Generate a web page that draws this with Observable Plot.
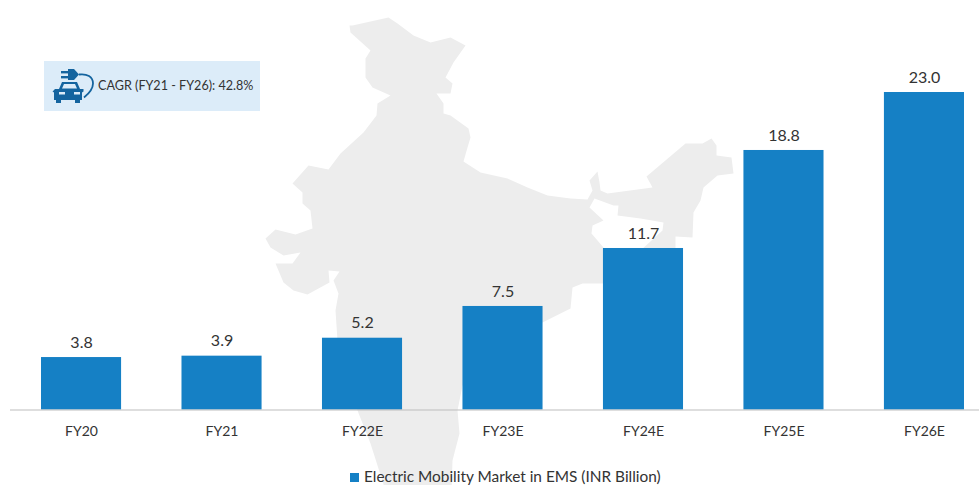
<!DOCTYPE html>
<html>
<head>
<meta charset="utf-8">
<script src="https://cdn.jsdelivr.net/npm/d3@7"></script>
<script src="https://cdn.jsdelivr.net/npm/@observablehq/plot@0.6"></script>
<style>
  html, body { margin: 0; padding: 0; background: #fff; overflow: hidden; }
  #stage { position: relative; width: 979px; height: 485px; font-family: Lato, sans-serif; color: #333; }
  #stage > .layer { position: absolute; left: 0; top: 0; }
  #callout { position: absolute; left: 44px; top: 61px; width: 216px; height: 50px; background: #dcecf9; }
  #callout svg { position: absolute; left: 0; top: 0; }
  #callout span { position: absolute; left: 54px; top: 17px; font-size: 12.6px; line-height: 16px; white-space: nowrap; }
  #legend { position: absolute; left: 350px; top: 467px; font-size: 15.4px; line-height: 18px; white-space: nowrap; }
  #legend i { display: inline-block; width: 9px; height: 9px; margin-right: 5px; background: #1580c5; }
</style>
</head>
<body>
<div id="stage"></div>
<script>
const categories = ["FY20", "FY21", "FY22E", "FY23E", "FY24E", "FY25E", "FY26E"];
const marketValues = [3.8, 3.9, 5.2, 7.5, 11.7, 18.8, 23.0];
const barColor = "#1580c5";
const legendLabel = "Electric Mobility Market in EMS (INR Billion)";
const calloutLabel = "CAGR (FY21 - FY26): 42.8%";

// Outline of the backdrop map
const indiaOutline = [
  [388,17],[397,23],[413,35],[430,42],[450,37],[465,45],[453,62],[445,77],[452,83],[450,93],[436,93],[443,103],[443,113],[450,115],
  [468,128],[470,137],[467,147],[463,161],[480,172],[507,178],[527,187],[547,195],[570,198],[587,199],[592,190],[589,180],[597,171],
  [599,182],[600,190],[607,193],[652,187],[646,176],[685,143],[702,143],[711,138],[716,145],[716,155],[731,157],[733,173],[717,175],
  [703,187],[700,200],[693,212],[692,237],[675,236],[675,250],[640,250],[662,230],[663,222],[640,218],[617,215],[618,205],[613,205],
  [594,198],[589,207],[603,220],[592,225],[591,233],[603,247],[603,283],[582,283],[572,287],[570,308],[540,323],[462,385],[457,410],
  [459,433],[452,460],[451,490],[385,490],[370,443],[357,410],[337,340],[335,310],[338,293],[333,280],[339,271],[328,270],[329,282],
  [307,294],[293,290],[283,282],[275,263],[292,263],[300,252],[283,255],[270,247],[265,238],[275,229],[295,234],[312,228],[310,210],
  [302,203],[302,192],[292,183],[308,165],[328,169],[340,153],[363,132],[376,115],[377,103],[390,95],[372,87],[365,77],[365,58],
  [370,50],[350,32],[349,25],[352,25],[388,17]
];

const rows = categories.map((c, i) => ({category: c, value: marketValues[i]}));
const stage = document.getElementById("stage");

const mapPlot = Plot.plot({
  width: 979, height: 485, margin: 0,
  x: {domain: [0, 979], range: [0, 979], axis: null},
  y: {domain: [0, 485], range: [0, 485], axis: null},
  marks: [
    Plot.geo({type: "Polygon", coordinates: [indiaOutline]}, {fill: "#ededed", stroke: "none"})
  ]
});
mapPlot.setAttribute("class", (mapPlot.getAttribute("class") || "") + " layer");
stage.appendChild(mapPlot);

const chart = Plot.plot({
  width: 979, height: 460,
  marginLeft: 10, marginRight: 0, marginTop: 0, marginBottom: 50,
  style: {background: "transparent", fontFamily: "Lato, sans-serif", fontSize: "14px", color: "#333"},
  x: {domain: categories, range: [41, 964], paddingInner: 0.43, paddingOuter: 0, round: false, label: null},
  y: {domain: [0, 23], range: [409.5, 92], axis: null},
  marks: [
    Plot.barY(rows, {x: "category", y: "value", fill: barColor}),
    Plot.ruleY([0], {stroke: "#bdbdbd", strokeWidth: 1}),
    Plot.text(rows, {x: "category", y: "value", text: d => d.value.toFixed(1), dy: -15, fontSize: 16, fill: "#333"}),
    Plot.axisX({tickSize: 0, tickPadding: 16, fontSize: 14, fill: "#333", label: null})
  ]
});
chart.setAttribute("class", (chart.getAttribute("class") || "") + " layer");
stage.appendChild(chart);

const callout = document.createElement("div");
callout.id = "callout";
callout.innerHTML = `<svg width="54" height="50" viewBox="0 0 54 50">
  <g fill="#14649f">
    <rect x="17" y="10" width="7" height="2.4"/><rect x="17" y="15" width="7" height="2.4"/>
    <path d="M24 8h6l5 5.5l-5 5.5h-6z"/>
    <path d="M11 28h4l3-7h15l3 7h3.5v2.5l-1.5 1v7.500h-2v3h-5v-3h-14v3h-5v-3h-2v-7.500l-1.500-1z" />
  </g>
  <path d="M18 27.500l2-4.500h11l2 4.500z M15 31h6v2.500h-6z M30 31h6v2.500h-6z" fill="#dcecf9"/>
  <path d="M35 13.500c8-1 14 2 14 9c0 6-4 10-9 14" fill="none" stroke="#14649f" stroke-width="1.800"/>
</svg><span>${calloutLabel}</span>`;
stage.appendChild(callout);

const legend = document.createElement("div");
legend.id = "legend";
legend.innerHTML = `<i></i>${legendLabel}`;
stage.appendChild(legend);
</script>
</body>
</html>
